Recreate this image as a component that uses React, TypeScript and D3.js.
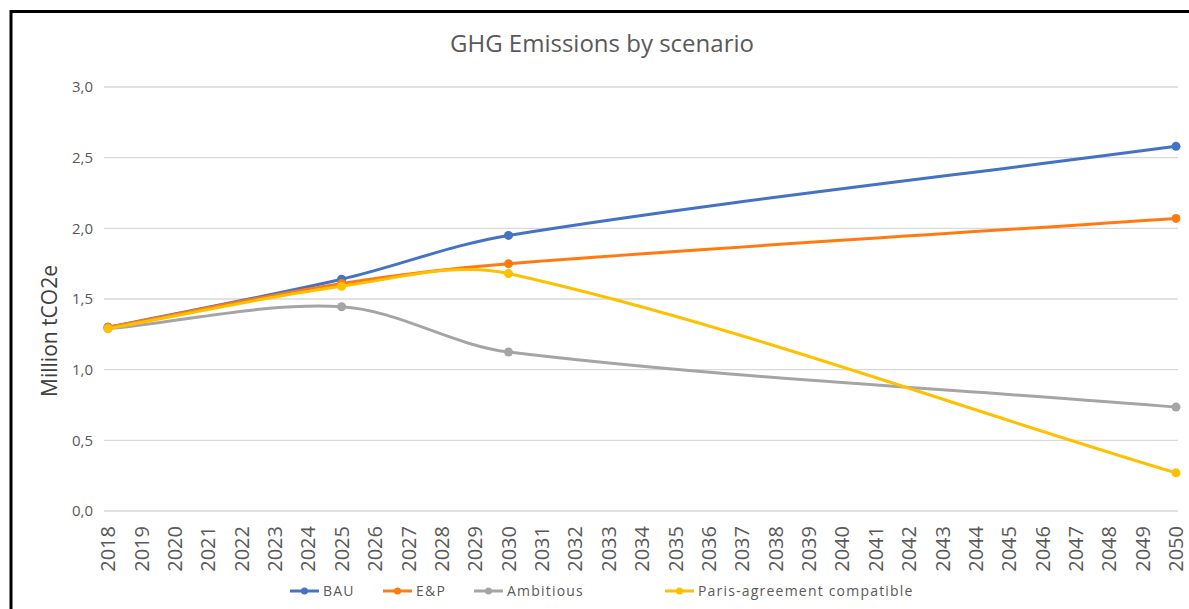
import React from "react";
import * as d3 from "d3";

const years: number[] = d3.range(2018, 2051);
const pointYears: number[] = [2018, 2025, 2030, 2050];
const bauValues: number[] = [1.30, 1.64, 1.95, 2.58];
const epValues: number[] = [1.30, 1.61, 1.75, 2.07];
const ambitiousValues: number[] = [1.29, 1.445, 1.125, 0.735];
const parisValues: number[] = [1.29, 1.59, 1.68, 0.27];
const yTicks: number[] = [0, 0.5, 1, 1.5, 2, 2.5, 3];

const seriesNames = ["BAU", "E&P", "Ambitious", "Paris-agreement compatible"];
const seriesColors = ["#4472C4", "#FF7A12", "#A5A5A5", "#FFC000"];
const seriesValues = [bauValues, epValues, ambitiousValues, parisValues];

const W = 1189;
const H = 609;
const FONT = "'Open Sans', 'Noto Sans', sans-serif";

// Excel-like smoothing: Bezier with control handles scaled by neighbouring segment lengths
function smoothPath(pts: [number, number][]): string {
  const p = d3.path();
  const n = pts.length;
  const dist = (a: [number, number], b: [number, number]) => Math.hypot(b[0] - a[0], b[1] - a[1]);
  const handles = pts.map((pt, i) => {
    const prev = pts[Math.max(0, i - 1)];
    const next = pts[Math.min(n - 1, i + 1)];
    const dp = dist(prev, pt);
    const dn = dist(pt, next);
    const tot = dp + dn || 1;
    const vx = next[0] - prev[0];
    const vy = next[1] - prev[1];
    return {
      back: [pt[0] - (vx * dp) / tot / 3, pt[1] - (vy * dp) / tot / 3],
      fwd: [pt[0] + (vx * dn) / tot / 3, pt[1] + (vy * dn) / tot / 3],
    };
  });
  p.moveTo(pts[0][0], pts[0][1]);
  for (let i = 1; i < n; i++) {
    const c1 = handles[i - 1].fwd;
    const c2 = handles[i].back;
    p.bezierCurveTo(c1[0], c1[1], c2[0], c2[1], pts[i][0], pts[i][1]);
  }
  return p.toString();
}

export default function App() {
  const x = d3.scalePoint<number>().domain(years).range([108, 1176]);
  const y = d3.scaleLinear().domain([0, 3]).range([511, 87]);

  const legendX = [290, 383, 474, 665];
  const legendY = 591;

  return (
    <svg width={W} height={H} style={{ position: "absolute", left: 0, top: 0 }}>
      <rect x={0} y={0} width={W} height={H} fill="#fff" />
      <line x1={11} y1={11.5} x2={W} y2={11.5} stroke="#000" strokeWidth={3} />
      <line x1={11} y1={10} x2={11} y2={H} stroke="#000" strokeWidth={3} />
      <text x={602} y={52} textAnchor="middle" fontFamily={FONT} fontSize={24} fill="#595959">
        GHG Emissions by scenario
      </text>
      {yTicks.map((t) => (
        <g key={t}>
          <line x1={104} x2={1178} y1={y(t)} y2={y(t)} stroke="#D9D9D9" strokeWidth={1.3} />
          <text x={93} y={y(t)} dy="0.35em" textAnchor="end" fontFamily={FONT} fontSize={15} fill="#595959">
            {d3.format(".1f")(t).replace(".", ",")}
          </text>
        </g>
      ))}
      <text
        transform={`translate(57,331) rotate(-90)`}
        textAnchor="middle"
        fontFamily={FONT}
        fontSize={21}
        fill="#404040"
      >
        Million tCO2e
      </text>
      {years.map((yr) => (
        <text
          key={yr}
          transform={`translate(${(x(yr) as number)},526) rotate(-90)`}
          textAnchor="end"
          dy="0.36em"
          fontFamily={FONT}
          fontSize={20}
          fill="#595959"
        >
          {yr}
        </text>
      ))}
      {seriesValues.map((vals, i) => {
        const pts = pointYears.map((yr, j) => [x(yr) as number, y(vals[j])] as [number, number]);
        return (
          <g key={seriesNames[i]}>
            <path d={smoothPath(pts)} fill="none" stroke={seriesColors[i]} strokeWidth={3} strokeLinecap="round" />
            {pts.map((pt, j) => (
              <circle key={j} cx={pt[0]} cy={pt[1]} r={4.5} fill={seriesColors[i]} />
            ))}
          </g>
        );
      })}
      {seriesNames.map((n, i) => (
        <g key={n}>
          <line x1={legendX[i]} x2={legendX[i] + 29} y1={legendY} y2={legendY} stroke={seriesColors[i]} strokeWidth={3} />
          <circle cx={legendX[i] + 14.5} cy={legendY} r={3.5} fill={seriesColors[i]} />
          <text
            x={legendX[i] + 33}
            y={legendY}
            dy="0.35em"
            fontFamily={FONT}
            fontSize={14}
            letterSpacing={1.2}
            fill="#595959"
          >
            {n}
          </text>
        </g>
      ))}
    </svg>
  );
}
